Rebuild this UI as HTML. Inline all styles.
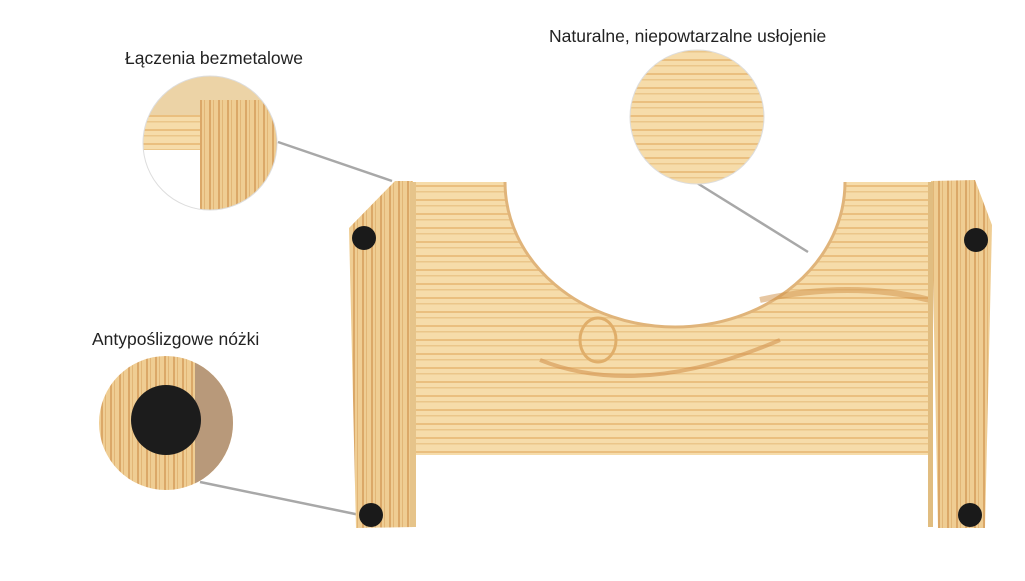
<!DOCTYPE html>
<html><head><meta charset="utf-8"><style>
body{margin:0;background:#fff;width:1025px;height:576px;overflow:hidden;font-family:"Liberation Sans",sans-serif}
</style></head><body>
<svg width="1025" height="576" viewBox="0 0 1025 576" xmlns="http://www.w3.org/2000/svg">
<defs>
<pattern id="gh" width="40" height="14" patternUnits="userSpaceOnUse">
<rect width="40" height="14" fill="#f6dcaa"/>
<rect y="3" width="40" height="2" fill="#e2ac62" opacity="0.6"/>
<rect y="9" width="40" height="1.5" fill="#d9a45a" opacity="0.4"/>
</pattern>
<pattern id="gv" width="9" height="40" patternUnits="userSpaceOnUse">
<rect width="9" height="40" fill="#efcd93"/>
<rect x="2" width="2" height="40" fill="#c98a45" opacity="0.55"/>
<rect x="6" width="1" height="40" fill="#d49a55" opacity="0.45"/>
</pattern>
<clipPath id="c1"><circle cx="210" cy="143" r="67"/></clipPath>
<clipPath id="c3"><circle cx="166" cy="423" r="67"/></clipPath>
</defs>
<g stroke="#a8a8a8" stroke-width="2.5">
<line x1="278" y1="142" x2="392" y2="181"/>
<line x1="697" y1="183" x2="808" y2="252"/>
<line x1="200" y1="482" x2="360" y2="515"/>
</g>
<path d="M413 182 L505 182 A170 145 0 0 0 845 182 L932 182 L932 455 L415 455 Z" fill="url(#gh)"/>
<path d="M505 182 A170 145 0 0 0 845 182" fill="none" stroke="#e0b47a" stroke-width="3"/>
<ellipse cx="598" cy="340" rx="18" ry="22" fill="none" stroke="#e0ae6a" stroke-width="3"/>
<path d="M540 360 Q640 400 780 340" fill="none" stroke="#d49550" stroke-width="4" opacity="0.6"/>
<path d="M760 300 Q850 280 930 300" fill="none" stroke="#cf8f45" stroke-width="6" opacity="0.5"/>
<path d="M349 228 L395 181 L413 181 L415 527 L356 528 Z" fill="url(#gv)"/>
<rect x="410" y="182" width="6" height="345" fill="#e6c48a"/>
<path d="M931 181 L975 180 L992 225 L985 528 L938 528 Z" fill="url(#gv)"/>
<rect x="928" y="182" width="5" height="345" fill="#e1bd80"/>
<g fill="#1a1a1a">
<circle cx="364" cy="238" r="12"/><circle cx="976" cy="240" r="12"/>
<circle cx="371" cy="515" r="12"/><circle cx="970" cy="515" r="12"/>
</g>
<g clip-path="url(#c1)">
<rect x="140" y="70" width="140" height="140" fill="#fff"/>
<rect x="140" y="70" width="140" height="45" fill="#ecd3a6"/>
<rect x="140" y="115" width="65" height="35" fill="url(#gh)"/>
<rect x="200" y="100" width="80" height="110" fill="url(#gv)"/>
</g>
<circle cx="210" cy="143" r="67" fill="none" stroke="#ddd" stroke-width="1"/>
<circle cx="697" cy="117" r="67" fill="url(#gh)" stroke="#ddd"/>
<g clip-path="url(#c3)">
<rect x="95" y="350" width="145" height="145" fill="url(#gv)"/>
<rect x="195" y="350" width="45" height="145" fill="#b8997a"/>
<circle cx="166" cy="420" r="35" fill="#1c1c1c"/>
</g>
<g font-size="17.5" fill="#222">
<text x="125" y="64">Łączenia bezmetalowe</text>
<text x="549" y="42">Naturalne, niepowtarzalne usłojenie</text>
<text x="92" y="345">Antypoślizgowe nóżki</text>
</g>
</svg>
</body></html>
